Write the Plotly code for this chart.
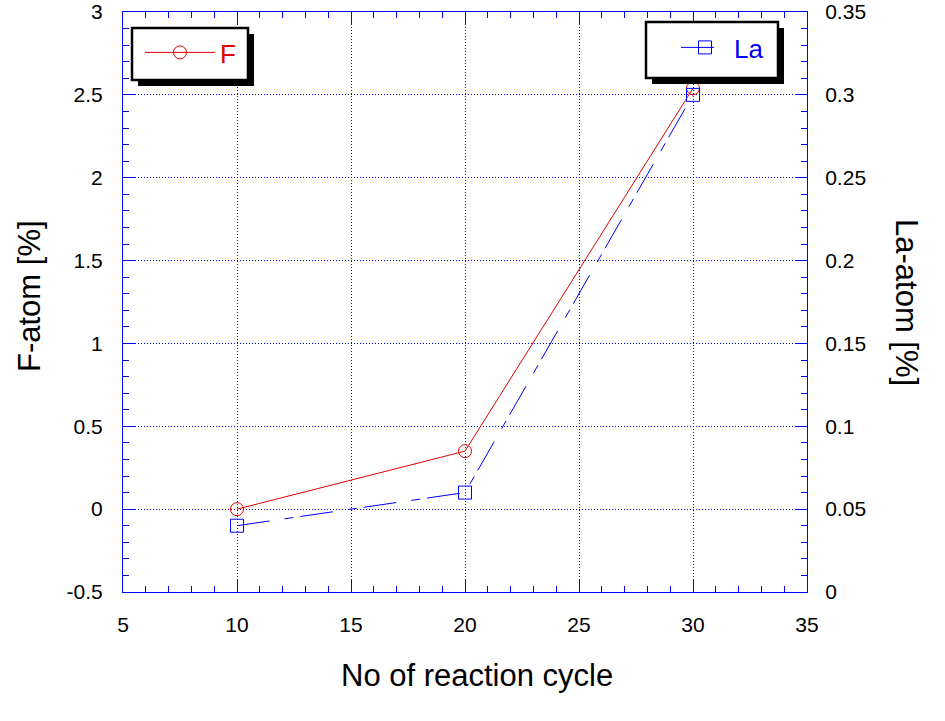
import plotly.graph_objects as go

cycles = [10, 20, 30]
f_atom = [0.0, 0.35, 2.54]
la_atom = [0.04, 0.06, 0.30]

y1_ticks = [-0.5, 0, 0.5, 1, 1.5, 2, 2.5, 3]
y1_labels = ["-0.5", "0", "0.5", "1", "1.5", "2", "2.5", "3"]
y2_ticks = [0, 0.05, 0.1, 0.15, 0.2, 0.25, 0.3, 0.35]
y2_labels = ["0", "0.05", "0.1", "0.15", "0.2", "0.25", "0.3", "0.35"]
x_ticks = [5, 10, 15, 20, 25, 30, 35]

FONT = "Liberation Sans, Arial, sans-serif"
BLUE = "#0000ff"
RED = "#e00000"

fig = go.Figure()
fig.add_trace(go.Scatter(
    x=cycles, y=f_atom, name="F", mode="lines+markers",
    line=dict(color=RED, width=1),
    marker=dict(symbol="circle-open", size=13, color=RED, line=dict(width=1)),
    legend="legend",
))
fig.add_trace(go.Scatter(
    x=cycles, y=la_atom, name="La", mode="lines+markers", yaxis="y2",
    line=dict(color=BLUE, width=1, dash="33px,15px,9px,7px"),
    marker=dict(symbol="square-open", size=13, color=BLUE, line=dict(width=1)),
    legend="legend2",
))

W, H = 945, 721
L, R, T, B = 123, 138, 12, 129
pw, ph = W - L - R, H - T - B

def px(xp):
    return (xp - L) / pw

def py(yp):
    return (H - B - yp) / ph

axis_common = dict(
    showline=True, linecolor=BLUE, linewidth=1,
    ticks="inside", ticklen=12, tickcolor=BLUE, tickwidth=1,
    showgrid=True, gridcolor=BLUE, gridwidth=1, griddash="1px,2px",
    zeroline=False, ticklabeloverflow="allow", automargin=False,
    tickfont=dict(family=FONT, size=21, color="black"),
)

fig.update_layout(
    width=W, height=H,
    margin=dict(l=L, r=R, t=T, b=B, autoexpand=False),
    paper_bgcolor="white", plot_bgcolor="white",
    font=dict(family=FONT),
    xaxis=dict(range=[5, 35], tickvals=x_ticks, mirror="ticks",
               minor=dict(dtick=1, ticks="inside", ticklen=6, tickcolor=BLUE, showgrid=False),
               ticklabelstandoff=14, **axis_common),
    yaxis=dict(range=[-0.5, 3], tickvals=y1_ticks, ticktext=y1_labels,
               minor=dict(dtick=0.1, ticks="inside", ticklen=6, tickcolor=BLUE, showgrid=False),
               ticklabelstandoff=15, **axis_common),
    yaxis2=dict(range=[0, 0.35], tickvals=y2_ticks, ticktext=y2_labels,
                overlaying="y", side="right",
                minor=dict(dtick=0.01, ticks="inside", ticklen=6, tickcolor=BLUE, showgrid=False),
                ticklabelstandoff=13,
                **{**axis_common, "showgrid": False}),
    legend=dict(x=px(140), y=py(29), xanchor="left", yanchor="top",
                bgcolor="rgba(0,0,0,0)", borderwidth=0, itemwidth=70,
                font=dict(family=FONT, size=26, color=RED)),
    legend2=dict(x=px(676), y=py(24), xanchor="left", yanchor="top",
                 bgcolor="rgba(0,0,0,0)", borderwidth=0, itemwidth=48,
                 font=dict(family=FONT, size=26, color=BLUE)),
    showlegend=True,
)

# legend frames with drop shadow
for (x0, y0, x1, y1) in [(132, 28, 248, 80), (646, 22, 778, 78)]:
    fig.add_shape(type="rect", xref="paper", yref="paper",
                  x0=px(x0 + 6), x1=px(x1 + 6), y0=py(y1 + 6), y1=py(y0 + 6),
                  fillcolor="black", line=dict(width=0), layer="above")
    fig.add_shape(type="rect", xref="paper", yref="paper",
                  x0=px(x0), x1=px(x1), y0=py(y1), y1=py(y0),
                  fillcolor="white", line=dict(color="black", width=2.5), layer="above")

fig.add_annotation(text="No of reaction cycle", xref="paper", yref="paper",
                   x=px(477), y=py(675), xanchor="center", yanchor="middle", showarrow=False,
                   font=dict(family=FONT, size=31, color="black"))
fig.add_annotation(text="F-atom [%]", xref="paper", yref="paper",
                   x=px(29), y=py(296), xanchor="center", yanchor="middle", showarrow=False,
                   textangle=-90, font=dict(family=FONT, size=31, color="black"))
fig.add_annotation(text="La-atom [%]", xref="paper", yref="paper",
                   x=px(907), y=py(302), xanchor="center", yanchor="middle", showarrow=False,
                   textangle=90, font=dict(family=FONT, size=31, color="black"))

fig.write_html("out.html", config={"displayModeBar": False},
               post_script="document.body.style.margin='0px';document.body.style.overflow='hidden';")
